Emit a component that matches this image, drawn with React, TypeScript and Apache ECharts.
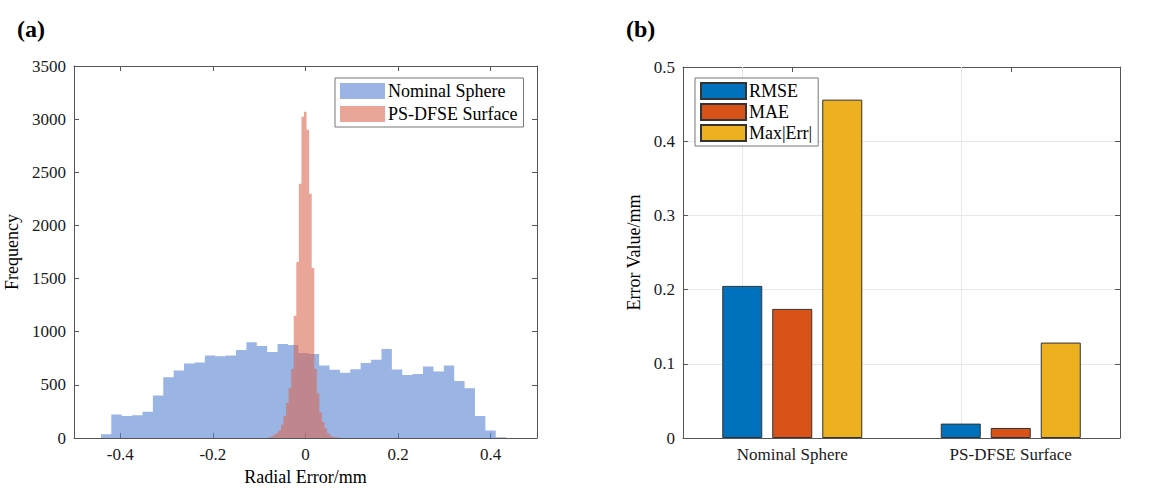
import React, { useEffect, useRef } from 'react';
import * as echarts from 'echarts';

const FONT = 'Liberation Serif';

// (a) radial error histograms
const nominalBinStart = -0.4418;
const nominalBinWidth = 0.02244;
const nominalCounts = [
  35, 220, 206, 215, 247, 400, 571, 635, 701, 711, 777, 768, 777, 828, 901, 866, 809, 885, 876, 800,
  790, 682, 641, 615, 647, 705, 736, 838, 644, 593, 603, 672, 625, 682, 536, 467, 206, 70, 6,
];
const surfaceBinStart = -0.0808;
const surfaceBinWidth = 0.00554;
const surfaceCounts = [
  8, 15, 30, 45, 70, 125, 210, 330, 470, 650, 1150, 1657, 2393, 3022, 3070, 2901, 2298, 1600,
  650, 420, 240, 150, 90, 45, 22, 10, 5, 2,
];
const radialTicks = [-0.4, -0.2, 0, 0.2, 0.4];

// (b) error metrics
const methods = ['Nominal Sphere', 'PS-DFSE Surface'];
const rmse = [0.205, 0.0194];
const mae = [0.174, 0.0135];
const maxErr = [0.456, 0.1286];

const BLUE_FILL = 'rgba(87,130,210,0.6)';
const RED_FILL = 'rgba(217,105,83,0.6)';
const AXIS_COLOR = '#555555';

// step outline of a histogram: point at each bin's left edge, last edge back to 0
const toSteps = (start: number, width: number, counts: number[]) => {
  const pts = counts.map((c, i) => [start + i * width, c]);
  pts.push([start + counts.length * width, 0]);
  return pts;
};

const plain = (v: number) => String(Math.round(v * 1000) / 1000);

const axisLine = () => ({ show: true, onZero: false, lineStyle: { color: AXIS_COLOR, width: 1 } });
const tickStyle = (extra: any = {}) => ({
  show: true,
  inside: true,
  length: 5,
  lineStyle: { color: AXIS_COLOR },
  ...extra,
});
const nameStyle = { fontFamily: FONT, fontSize: 18, color: '#000' };
const legendBox = {
  orient: 'vertical',
  itemWidth: 45,
  itemHeight: 16,
  padding: [4, 6, 4, 5],
  borderColor: '#777777',
  borderWidth: 1,
  backgroundColor: '#ffffff',
  selectedMode: false,
  textStyle: { fontFamily: FONT, fontSize: 18, color: '#000', padding: [0, 0, 0, -2] },
};

const histogramOption = {
  animation: false,
  graphic: [{ type: 'text', left: 17, top: 17, style: { text: '(a)', font: `bold 24px ${FONT}`, fill: '#000' } }],
  grid: { left: 74, top: 66, width: 463, height: 372, outerBoundsMode: 'none' },
  legend: {
    ...legendBox,
    data: [
      { name: 'Nominal Sphere', icon: 'rect', itemStyle: { color: BLUE_FILL, borderWidth: 0 } },
      { name: 'PS-DFSE Surface', icon: 'rect', itemStyle: { color: RED_FILL, borderWidth: 0 } },
    ],
    left: 335,
    top: 78,
    itemGap: 5,
  },
  xAxis: [
    {
      type: 'value',
      min: -0.5,
      max: 0.5,
      position: 'bottom',
      name: 'Radial Error/mm',
      nameLocation: 'middle',
      nameGap: 19,
      nameTextStyle: nameStyle,
      axisLine: axisLine(),
      axisTick: tickStyle({ customValues: radialTicks }),
      axisLabel: { color: '#1a1a1a', fontSize: 17, fontFamily: FONT, customValues: radialTicks, formatter: plain },
      splitLine: { show: false },
    },
    {
      type: 'value',
      min: -0.5,
      max: 0.5,
      position: 'top',
      axisLine: axisLine(),
      axisTick: tickStyle({ customValues: radialTicks }),
      axisLabel: { show: false },
      splitLine: { show: false },
    },
  ],
  yAxis: [
    {
      type: 'value',
      min: 0,
      max: 3500,
      interval: 500,
      position: 'left',
      name: 'Frequency',
      nameLocation: 'middle',
      nameGap: 43,
      nameTextStyle: nameStyle,
      axisLine: axisLine(),
      axisTick: tickStyle(),
      axisLabel: { color: '#1a1a1a', fontSize: 17, fontFamily: FONT, formatter: plain },
      splitLine: { show: false },
    },
    {
      type: 'value',
      min: 0,
      max: 3500,
      interval: 500,
      position: 'right',
      axisLine: axisLine(),
      axisTick: tickStyle(),
      axisLabel: { show: false },
      splitLine: { show: false },
    },
  ],
  series: [
    {
      type: 'line',
      name: 'Nominal Sphere',
      step: 'end',
      data: toSteps(nominalBinStart, nominalBinWidth, nominalCounts),
      symbol: 'none',
      showSymbol: false,
      lineStyle: { width: 0, opacity: 0 },
      itemStyle: { color: BLUE_FILL },
      areaStyle: { color: BLUE_FILL, opacity: 1 },
      z: 2,
    },
    {
      type: 'line',
      name: 'PS-DFSE Surface',
      step: 'end',
      data: toSteps(surfaceBinStart, surfaceBinWidth, surfaceCounts),
      symbol: 'none',
      showSymbol: false,
      lineStyle: { width: 0, opacity: 0 },
      itemStyle: { color: RED_FILL },
      areaStyle: { color: RED_FILL, opacity: 1 },
      z: 3,
    },
  ],
};

const barSeries = (name: string, data: number[], color: string, extra: any = {}) => ({
  type: 'bar',
  name,
  data,
  barWidth: 40,
  barGap: '25%',
  z: 2,
  itemStyle: { color, borderColor: '#333333', borderWidth: 1 },
  ...extra,
});

// right panel is drawn in its own div starting at x = 576
const errorOption = {
  animation: false,
  graphic: [{ type: 'text', left: 50, top: 17, style: { text: '(b)', font: `bold 24px ${FONT}`, fill: '#000' } }],
  grid: { left: 107, top: 67, width: 437, height: 371, outerBoundsMode: 'none' },
  legend: {
    ...legendBox,
    data: ['RMSE', 'MAE', 'Max|Err|'],
    icon: 'rect',
    left: 119,
    top: 78,
    itemGap: 3,
  },
  xAxis: [
    {
      type: 'category',
      data: methods,
      position: 'bottom',
      axisLine: axisLine(),
      axisTick: tickStyle({ alignWithLabel: true }),
      axisLabel: { color: '#1a1a1a', fontSize: 17, fontFamily: FONT },
      splitLine: { show: false },
    },
    {
      type: 'category',
      data: methods,
      position: 'top',
      axisLine: axisLine(),
      axisTick: tickStyle({ alignWithLabel: true }),
      axisLabel: { show: false },
      splitLine: { show: false },
    },
  ],
  yAxis: [
    {
      type: 'value',
      min: 0,
      max: 0.5,
      interval: 0.1,
      position: 'left',
      name: 'Error Value/mm',
      nameLocation: 'middle',
      nameGap: 36,
      nameTextStyle: nameStyle,
      axisLine: axisLine(),
      axisTick: tickStyle(),
      axisLabel: { color: '#1a1a1a', fontSize: 17, fontFamily: FONT, formatter: plain },
      splitLine: { show: true, lineStyle: { color: '#e8e8e8', width: 1 } },
    },
    {
      type: 'value',
      min: 0,
      max: 0.5,
      interval: 0.1,
      position: 'right',
      axisLine: axisLine(),
      axisTick: tickStyle(),
      axisLabel: { show: false },
      splitLine: { show: false },
    },
  ],
  series: [
    barSeries('RMSE', rmse, '#0072BD', {
      markLine: {
        silent: true,
        symbol: 'none',
        z: 1,
        label: { show: false },
        lineStyle: { color: '#e8e8e8', type: 'solid', width: 1 },
        data: methods.map((m) => ({ xAxis: m })),
      },
    }),
    barSeries('MAE', mae, '#D95319'),
    barSeries('Max|Err|', maxErr, '#EDB120'),
  ],
};

const Panel: React.FC<{ option: any; left: number; width: number }> = ({ option, left, width }) => {
  const chartRef = useRef<HTMLDivElement>(null);

  useEffect(() => {
    if (!chartRef.current) return;
    const chart = echarts.init(chartRef.current, undefined, { renderer: 'svg' });
    chart.setOption(option);
    return () => {
      chart.dispose();
    };
  }, [option]);

  return <div ref={chartRef} style={{ position: 'absolute', left, top: 0, width, height: 497 }} />;
};

const App: React.FC = () => {
  useEffect(() => {
    document.body.style.margin = '0';
  }, []);

  return (
    <div style={{ position: 'relative', width: 1153, height: 497 }}>
      <Panel option={histogramOption} left={0} width={576} />
      <Panel option={errorOption} left={576} width={577} />
    </div>
  );
};

export default App;
